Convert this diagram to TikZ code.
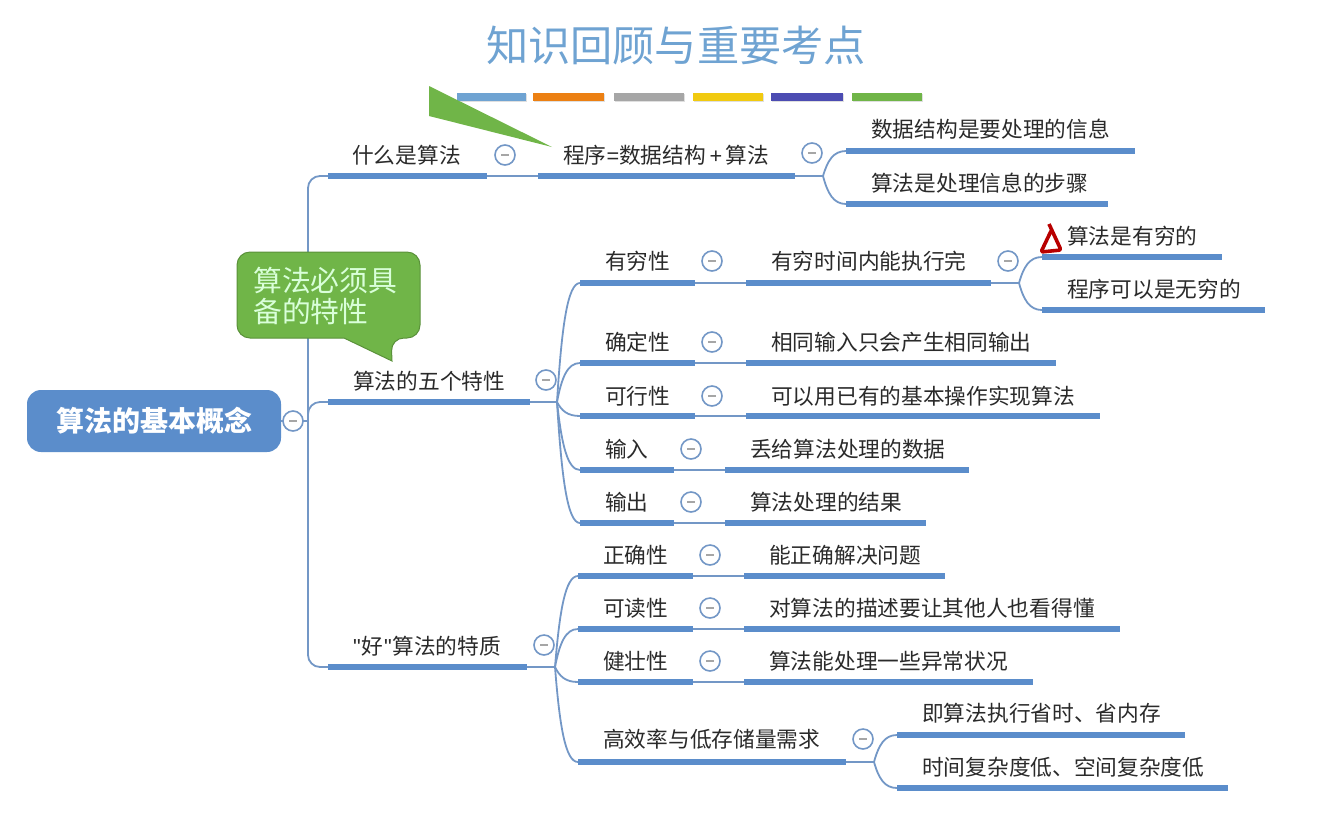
\documentclass[tikz,border=0pt]{standalone}
\usepackage{fontspec}
\setmainfont{Noto Sans CJK SC}
\newfontfamily\latinpart{Liberation Sans}
\usetikzlibrary{calc,shadows}
\definecolor{barblue}{HTML}{5B8DCB}
\definecolor{linkblue}{HTML}{7397C6}
\definecolor{titleblue}{HTML}{6FA3D2}
\definecolor{callgreen}{HTML}{70B548}
\definecolor{txt}{HTML}{2A2A2A}
\tikzset{
  barn/.style={rectangle,draw=none,fill=barblue,inner sep=0pt,minimum height=5.5pt,anchor=west},
  label/.style={anchor=west,inner sep=0pt,text=txt,font=\fontsize{21.7}{24}\selectfont},
  link/.style={draw=linkblue,line width=1.8pt},
  fold/.style={circle,draw=linkblue,fill=white,line width=1.6pt,minimum size=20pt,inner sep=0pt},
  minus/.style={draw=gray!70,line width=1.2pt},
  swatch/.style={rectangle,inner sep=0pt,minimum height=8pt,anchor=west,drop shadow={shadow xshift=0.5pt,shadow yshift=-1.2pt,opacity=.25}},
}
% name, x1, x2, ybar, xtext, ytext, text
\newcommand{\topicnode}[7]{%
  \node[barn,minimum width={(#3-#2)*1pt}] (#1) at (#2,#4) {};
  \node[label] (#1-t) at (#5,#6) {#7};
}
% name, x, y
\newcommand{\foldnode}[3]{%
  \node[fold] (#1) at (#2,#3) {};
  \draw[minus] ([xshift=-4pt]#1.center) -- ([xshift=4pt]#1.center);
}
% hub, target: a curve that leaves the hub steeply and lands level on the bar
\newcommand{\branch}[2]{%
  \draw[link] let \p1=(#1),\p2=(#2.west) in (#1) .. controls ({\x1+0.2*(\x2-\x1)},{\y1+0.62*(\y2-\y1)}) and ({\x1+0.45*(\x2-\x1)},{\y2}) .. (#2.west);
}
\begin{document}
\begin{tikzpicture}[x=1pt,y=-1pt]
\useasboundingbox (0,0) rectangle (1329,823);

% title
\node[inner sep=0pt,text=titleblue,font=\fontsize{42.2}{46}\selectfont] (title) at (676,46) {知识回顾与重要考点};
\node[swatch,fill=titleblue,minimum width=69pt] (s1) at (457,97) {};
\node[swatch,fill=orange!70!brown,minimum width=71pt] (s2) at (533,97) {};
\node[swatch,fill=black!35,minimum width=70pt] (s3) at (614,97) {};
\node[swatch,fill=yellow!70!orange!95!black,minimum width=70pt] (s4) at (693,97) {};
\node[swatch,fill=blue!40!gray,minimum width=72pt] (s5) at (771,97) {};
\node[swatch,fill=callgreen,minimum width=70pt] (s6) at (852,97) {};

% hubs
\coordinate (hubroot) at (308,421);
\coordinate (hubA) at (823,176);
\coordinate (hubB) at (557,402);
\coordinate (hubB1) at (1019,283);
\coordinate (hubC) at (555,667);
\coordinate (hubC1) at (874,762);

% root
\node[rectangle,rounded corners=14pt,fill=barblue,minimum width=254pt,minimum height=62pt,inner sep=0pt,text=white,font=\fontsize{28}{30}\selectfont\bfseries] (root) at (154,421) {算法的基本概念};

% topics
\topicnode{a}{328}{487}{176}{352}{155}{什么是算法}
\topicnode{a1}{538}{795}{176}{563}{155}{程序{\latinpart=}数据结构\kern3.5pt{\latinpart+}\kern3.5pt算法}
\topicnode{a11}{846}{1135}{151}{871}{129}{数据结构是要处理的信息}
\topicnode{a12}{846}{1108}{204}{871}{183}{算法是处理信息的步骤}
\topicnode{b}{328}{530}{402}{353}{381}{算法的五个特性}
\topicnode{b1}{580}{695}{283}{605}{261}{有穷性}
\topicnode{b1x}{746}{991}{283}{771}{261}{有穷时间内能执行完}
\topicnode{b1p}{1042}{1222}{257}{1067}{236}{算法是有穷的}
\topicnode{b1q}{1042}{1265}{310}{1067}{289}{程序可以是无穷的}
\topicnode{b2}{580}{695}{363}{605}{342}{确定性}
\topicnode{b2x}{746}{1056}{363}{771}{342}{相同输入只会产生相同输出}
\topicnode{b3}{580}{695}{416}{605}{396}{可行性}
\topicnode{b3x}{746}{1100}{416}{771}{396}{可以用已有的基本操作实现算法}
\topicnode{b4}{580}{674}{470}{605}{449}{输入}
\topicnode{b4x}{725}{969}{470}{750}{449}{丢给算法处理的数据}
\topicnode{b5}{580}{674}{523}{605}{502}{输出}
\topicnode{b5x}{725}{926}{523}{750}{502}{算法处理的结果}
\topicnode{c}{328}{527}{667}{353}{646}{{\latinpart\symbol{34}}\kern0.7pt好\kern0.7pt{\latinpart\symbol{34}}\kern0.7pt算法的特质}
\topicnode{c1}{578}{693}{576}{603}{555}{正确性}
\topicnode{c1x}{744}{945}{576}{769}{555}{能正确解决问题}
\topicnode{c2}{578}{693}{629}{603}{608}{可读性}
\topicnode{c2x}{744}{1120}{629}{769}{608}{对算法的描述要让其他人也看得懂}
\topicnode{c3}{578}{693}{682}{603}{661}{健壮性}
\topicnode{c3x}{744}{1033}{682}{769}{661}{算法能处理一些异常状况}
\topicnode{c4}{578}{846}{762}{603}{739}{高效率与低存储量需求}
\topicnode{c41}{897}{1185}{735}{922}{713}{即算法执行省时、省内存}
\topicnode{c42}{897}{1228}{788}{922}{767}{时间复杂度低、空间复杂度低}

% connectors
\draw[link] (root.east) -- (hubroot);
\draw[link,rounded corners=12pt] (hubroot) |- (a.west);
\draw[link,rounded corners=12pt] (hubroot) |- (b.west);
\draw[link,rounded corners=12pt] (hubroot) |- (c.west);
\draw[link] (a.east) -- (a1.west);
\draw[link] (a1.east) -- (hubA);
\branch{hubA}{a11}
\branch{hubA}{a12}
\draw[link] (b.east) -- (hubB);
\foreach \k in {b1,b2,b3,b4,b5}{\branch{hubB}{\k}}
\draw[link] (b1.east) -- (b1x.west);
\draw[link] (b1x.east) -- (hubB1);
\branch{hubB1}{b1p}
\branch{hubB1}{b1q}
\draw[link] (b2.east) -- (b2x.west);
\draw[link] (b3.east) -- (b3x.west);
\draw[link] (b4.east) -- (b4x.west);
\draw[link] (b5.east) -- (b5x.west);
\draw[link] (c.east) -- (hubC);
\foreach \k in {c1,c2,c3,c4}{\branch{hubC}{\k}}
\draw[link] (c1.east) -- (c1x.west);
\draw[link] (c2.east) -- (c2x.west);
\draw[link] (c3.east) -- (c3x.west);
\draw[link] (c4.east) -- (hubC1);
\branch{hubC1}{c41}
\branch{hubC1}{c42}

% fold markers
\foldnode{f0}{293}{421}
\foldnode{f1}{505}{155}
\foldnode{f2}{812}{153}
\foldnode{f3}{546}{380}
\foldnode{f4}{712}{261}
\foldnode{f5}{1008}{261}
\foldnode{f6}{712}{342}
\foldnode{f7}{712}{396}
\foldnode{f8}{691}{449}
\foldnode{f9}{691}{502}
\foldnode{f10}{544}{645}
\foldnode{f11}{710}{555}
\foldnode{f12}{710}{608}
\foldnode{f13}{710}{661}
\foldnode{f14}{863}{739}

% green annotations
\fill[callgreen] (429,86) -- (552,147) -- (429,116) -- cycle;
\draw[draw=callgreen!80!black,line width=1pt,fill=callgreen,rounded corners=13pt]
  (237,252) -- (420,252) -- (420,338) -- (391,338)
  [sharp corners] -- (392,361) -- (344,338)
  [rounded corners=13pt] -- (237,338) -- cycle;
\node[anchor=west,inner sep=0pt,text=white!85!green,font=\fontsize{28.8}{31}\selectfont,align=left] (note) at (253,296) {算法必须具\\备的特性};

% red mark
\draw[draw=red!72!black,line width=3.6pt,line join=round,rounded corners=2pt]
  (1049,224) -- (1061,250) -- (1041,252) -- (1051,231);
\end{tikzpicture}
\end{document}
